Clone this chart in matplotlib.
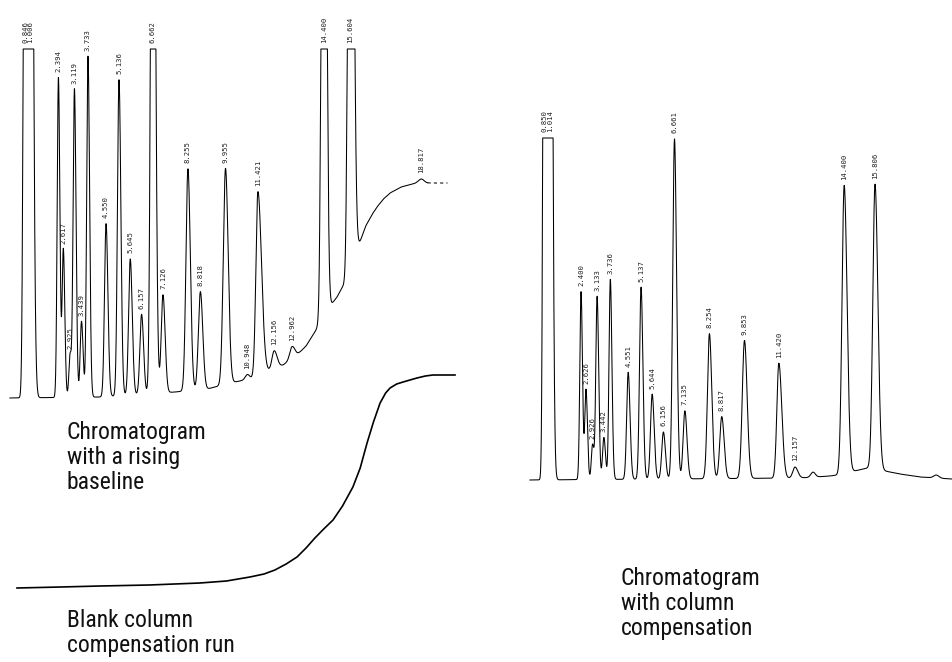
import numpy as np
import matplotlib
matplotlib.use("Agg")
import matplotlib.pyplot as plt
from matplotlib import font_manager

W, H = 952, 662

# ---- left: chromatogram with a rising baseline ----
left_rt = [0.90, 1.12, 2.394, 2.617, 2.925, 3.119, 3.439, 3.733, 4.550, 5.136, 5.645,
           6.157, 6.662, 7.126, 8.255, 8.818, 9.955, 10.948, 11.421, 12.156, 12.962,
           14.400, 15.604, 18.817]
left_labels = ["0.846", "1.006", "2.394", "2.617", "2.925", "3.119", "3.439", "3.733",
               "4.550", "5.136", "5.645", "6.157", "6.662", "7.126", "8.255", "8.818",
               "9.955", "10.948", "11.421", "12.156", "12.962", "14.400", "15.604", "18.817"]
left_height = [1100, 1100, 320, 148, 43, 308, 76, 341, 173, 316, 136,
               80, 900, 98, 222, 98, 216, 5, 184, 18, 12,
               1000, 1000, 4]
left_sigma = [0.07, 0.07, 0.055, 0.055, 0.055, 0.06, 0.06, 0.06, 0.07, 0.07, 0.075,
              0.075, 0.08, 0.08, 0.09, 0.09, 0.10, 0.10, 0.09, 0.10, 0.10,
              0.085, 0.085, 0.12]
left_tail = [1.5, 1.5, 1.2, 1.2, 1.2, 1.2, 1.2, 1.2, 1.2, 1.2, 1.2,
             1.2, 1.3, 1.2, 1.2, 1.2, 1.2, 1.0, 1.8, 1.3, 1.3,
             1.2, 1.4, 1.0]

# rising baseline under the left chromatogram (time, signal)
drift_t = [0.2, 4.28, 7.67, 9.12, 10.38, 11.06, 11.92, 12.56, 13.19, 13.60, 14.0,
           14.55, 15.0, 15.3, 15.6, 16.04, 16.3, 16.6, 16.81, 17.1, 17.4, 17.9, 18.6, 20.0]
drift_s = [0, 1, 6, 9, 16, 19, 27, 33, 43, 52, 66,
           88, 101, 113, 128, 156, 172, 184, 191, 199, 205, 211, 215, 215]

# ---- blank column compensation run ----
blank_t = [0.52, 2.5, 4.28, 6.5, 8.80, 10.0, 11.06, 11.7, 12.19, 12.7, 13.19, 13.6,
           14.00, 14.4, 14.82, 15.25, 15.72, 16.05, 16.36, 16.65, 16.95, 17.2,
           17.40, 17.7, 17.99, 18.3, 18.62, 19.0, 19.34, 20.34]
blank_s = [0, 1, 2, 3, 5, 7, 11, 14, 18, 24, 31, 40,
           50, 59, 68, 82, 101, 120, 145, 166, 185, 195,
           200, 204, 206, 208, 210, 212, 213, 213]

# ---- right: chromatogram with column compensation ----
right_rt = [0.74, 0.99, 2.400, 2.626, 2.926, 3.133, 3.442, 3.736, 4.551, 5.137, 5.644,
            6.156, 6.661, 7.135, 8.254, 8.817, 9.853, 11.420, 12.157, 12.98,
            14.400, 15.806, 18.6]
right_labels = ["0.850", "1.014", "2.400", "2.626", "2.926", "3.133", "3.442", "3.736",
                "4.551", "5.137", "5.644", "6.156", "6.661", "7.135", "8.254", "8.817",
                "9.853", "11.420", "12.157", "", "14.400", "15.806", ""]
right_height = [1100, 1100, 188, 90, 35, 183, 42, 200, 107, 192, 85,
                47, 340, 68, 145, 62, 138, 115, 11, 5,
                288, 285, 3]
right_sigma = [0.06, 0.06, 0.055, 0.055, 0.055, 0.06, 0.06, 0.06, 0.07, 0.07, 0.075,
               0.075, 0.08, 0.08, 0.09, 0.09, 0.10, 0.09, 0.10, 0.10,
               0.10, 0.10, 0.12]
right_tail = [1.5, 1.5, 1.2, 1.2, 1.2, 1.2, 1.2, 1.2, 1.2, 1.2, 1.2,
              1.2, 1.2, 1.2, 1.2, 1.2, 1.2, 1.5, 1.3, 1.0,
              1.3, 1.3, 1.0]
comp_t = [0.07, 12.38, 13.75, 14.1, 14.66, 15.48, 16.03, 16.94, 17.86, 19.3]
comp_s = [0, 2, 4, 5, 8, 12, 10, 6, 3, 1]

captions = ["Chromatogram\nwith a rising\nbaseline",
            "Blank column\ncompensation run",
            "Chromatogram\nwith column\ncompensation"]


def peaks(t, rt, height, sigma, tail):
    y = np.zeros_like(t)
    for r, h, s, k in zip(rt, height, sigma, tail):
        sd = np.where(t < r, s, s * k)
        y += h * np.exp(-0.5 * ((t - r) / sd) ** 2)
    return y


def panel(x0, x1, px0, k, ybase):
    # axes spanning pixel columns x0..x1, time t drawn at px0 + k*t, signal 0 at row ybase
    ax = fig.add_axes([x0 / W, 0, (x1 - x0) / W, 1])
    ax.set_xlim((x0 - px0) / k, (x1 - px0) / k)
    ax.set_ylim(ybase - H, ybase)
    ax.axis("off")
    ax.patch.set_visible(False)
    return ax


def pick_font():
    for name in ["Liberation Sans Narrow", "DejaVu Sans Condensed", "Roboto Condensed"]:
        try:
            font_manager.findfont(name, fallback_to_default=False)
            return name
        except Exception:
            pass
    return "DejaVu Sans"


fig = plt.figure(figsize=(W / 100, H / 100), dpi=100)
cap_font = pick_font()
lab_font = dict(family="DejaVu Sans Mono", fontsize=5.2, color="#222222")

# left chromatogram
axl = panel(0, 476, 5.5, 22.1, 398)
clip_l = 349
t = np.linspace(0.2, 20.0, 8000)
base = np.interp(t, drift_t, drift_s)
sig = np.minimum(base + peaks(t, left_rt, left_height, left_sigma, left_tail), clip_l)
solid = t <= 19.1
axl.plot(t[solid], sig[solid], color="black", lw=0.75)
axl.plot(t[~solid], sig[~solid], color="black", lw=0.75, ls=(0, (3, 3)))
for r, h, lab in zip(left_rt, left_height, left_labels):
    apex = min(np.interp(r, drift_t, drift_s) + h, clip_l)
    axl.annotate(lab, (r, apex), xytext=(0, 4), textcoords="offset points",
                 rotation=90, ha="center", va="bottom", **lab_font)

# blank run
axb = panel(0, 476, 5.5, 22.1, 588)
axb.plot(blank_t, blank_s, color="black", lw=1.2)

# right chromatogram
axr = panel(476, 952, 528.4, 21.93, 480)
clip_r = 342
t2 = np.linspace(0.07, 19.4, 8000)
base2 = np.interp(t2, comp_t, comp_s)
sig2 = np.minimum(base2 + peaks(t2, right_rt, right_height, right_sigma, right_tail), clip_r)
axr.plot(t2, sig2, color="black", lw=0.75)
for r, h, lab in zip(right_rt, right_height, right_labels):
    if not lab:
        continue
    apex = min(np.interp(r, comp_t, comp_s) + h, clip_r)
    axr.annotate(lab, (r, apex), xytext=(0, 4), textcoords="offset points",
                 rotation=90, ha="center", va="bottom", **lab_font)

# captions
cap = dict(family=[cap_font, "DejaVu Sans"], fontsize=17, color="#111111",
           ha="left", va="top", linespacing=1.12)
fig.text(67 / W, 1 - 421 / H, captions[0], **cap)
fig.text(67 / W, 1 - 609 / H, captions[1], **cap)
fig.text(621 / W, 1 - 567 / H, captions[2], **cap)

fig.savefig("out.png", dpi=100, facecolor="white")
